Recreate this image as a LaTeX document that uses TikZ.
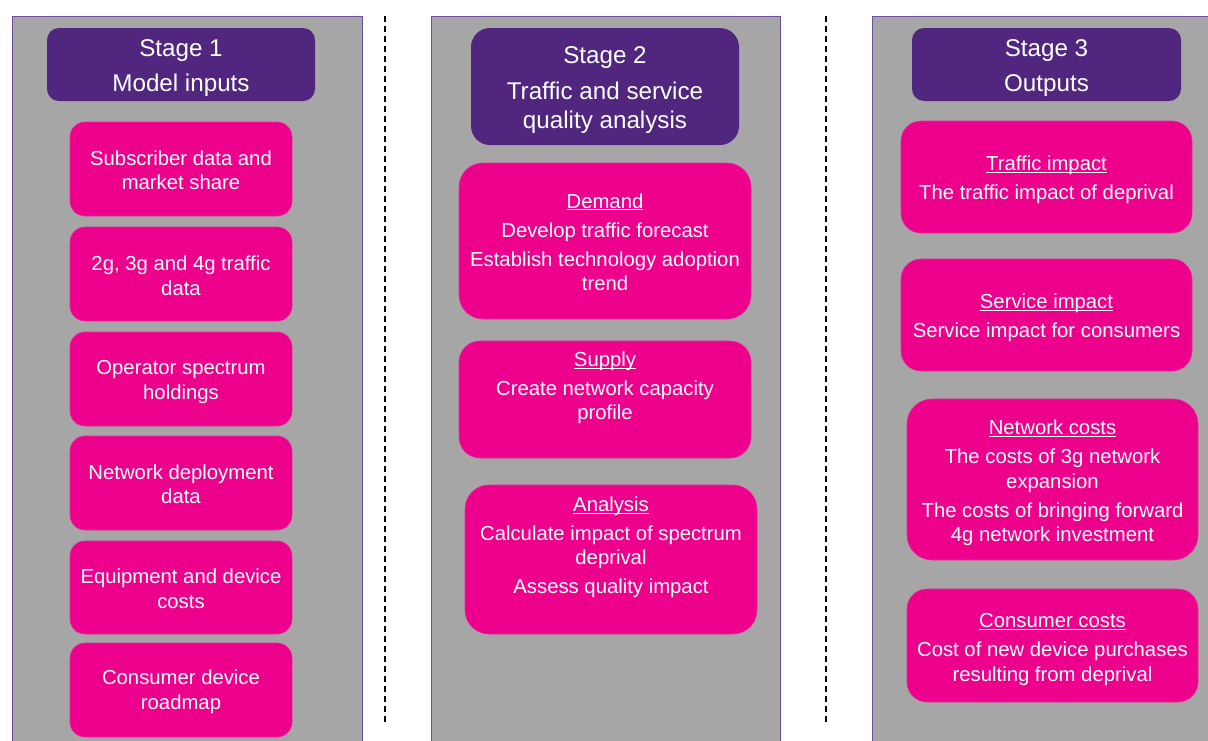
\documentclass[tikz,border=0pt]{standalone}
\usepackage{fontspec}
\setmainfont{Liberation Sans}
\definecolor{panelgray}{HTML}{A6A6A6}
\definecolor{stagepurple}{HTML}{51267F}
\definecolor{itempink}{HTML}{EC008C}
\definecolor{panelline}{HTML}{6F4E9E}
% underlined heading word: rule sits just under the baseline, line keeps the word's own size
\newcommand\headword[1]{\rlap{\underline{\smash{#1}\vphantom{A}}}\phantom{#1}}
% invisible strut that sets the height of a node's first line
\newcommand\lift[1]{\rule{0pt}{#1}}
\tikzset{
  panel/.style={draw=panelline, line width=1pt, fill=panelgray, rectangle, inner sep=0pt},
  stagebox/.style={rectangle, fill=stagepurple, text=white, align=center, inner sep=0pt,
    font=\fontsize{24.2}{29}\selectfont},
  itembox/.style={rectangle, fill=itempink, draw=itempink!85!white, line width=0.6pt,
    text=white, align=center, inner sep=0pt, font=\fontsize{20.3}{24.5}\selectfont},
  separator/.style={draw=black, line width=1.1pt, dash pattern=on 6pt off 4pt}
}
\begin{document}
\begin{tikzpicture}[x=1pt, y=-1pt]
\useasboundingbox (0,0) rectangle (1208,740);
\clip (0,0) rectangle (1208,740);
\fill[white] (0,0) rectangle (1208,740);

% column panels (they run off the lower edge)
\node[panel, minimum width=350pt, minimum height=750pt, anchor=north west] (p1) at (12,16) {};
\node[panel, minimum width=349pt, minimum height=750pt, anchor=north west] (p2) at (431,16) {};
\node[panel, minimum width=360pt, minimum height=750pt, anchor=north west] (p3) at (872,16) {};

% dashed separators between the columns
\coordinate (s1top) at (385,16);
\coordinate (s1bot) at (385,723);
\coordinate (s2top) at (826,16);
\coordinate (s2bot) at (826,723);
\draw[separator] (s1top) -- (s1bot);
\draw[separator] (s2top) -- (s2bot);

% Stage 1
\node[stagebox, minimum width=268pt, minimum height=73pt, rounded corners=12pt] (h1) at (181,64.5)
  {\lift{25pt}Stage 1\\[6pt]Model inputs};
\node[itembox, minimum width=222pt, minimum height=94pt, rounded corners=15pt] (in1) at (181,169)
  {\lift{17pt}Subscriber data and\\market share};
\node[itembox, minimum width=222pt, minimum height=94pt, rounded corners=15pt] (in2) at (181,274)
  {\lift{18.5pt}2g, 3g and 4g traffic\\data};
\node[itembox, minimum width=222pt, minimum height=94pt, rounded corners=15pt] (in3) at (181,379)
  {\lift{20.5pt}Operator spectrum\\holdings};
\node[itembox, minimum width=222pt, minimum height=94pt, rounded corners=15pt] (in4) at (181,483)
  {\lift{17pt}Network deployment\\data};
\node[itembox, minimum width=222pt, minimum height=93pt, rounded corners=15pt] (in5) at (181,587.5)
  {\lift{17pt}Equipment and device\\costs};
\node[itembox, minimum width=222pt, minimum height=94pt, rounded corners=15pt] (in6) at (181,690)
  {\lift{18.5pt}Consumer device\\roadmap};

% Stage 2
\node[stagebox, minimum width=268pt, minimum height=117pt, rounded corners=19pt] (h2) at (605,86.5)
  {\lift{25pt}Stage 2\\[7pt]Traffic and service\\quality analysis};
\node[itembox, minimum width=292pt, minimum height=156pt, rounded corners=24pt] (demand) at (605,241)
  {\lift{17pt}\headword{Demand}\\[4.5pt]Develop traffic forecast\\[4.5pt]Establish technology adoption\\trend};
\node[itembox, minimum width=292pt, minimum height=117pt, rounded corners=21pt] (supply) at (605,399.5)
  {\lift{19pt}\headword{Supply}\\[4.5pt]Create network capacity\\profile\\\strut};
\node[itembox, minimum width=292pt, minimum height=149pt, rounded corners=24pt] (analysis) at (611,559.5)
  {\lift{18pt}\headword{Analysis}\\[4.5pt]Calculate impact of spectrum\\deprival\\[4.5pt]Assess quality impact\\\strut};

% Stage 3
\node[stagebox, minimum width=269pt, minimum height=73pt, rounded corners=12pt] (h3) at (1046.5,64.5)
  {\lift{25pt}Stage 3\\[6pt]Outputs};
\node[itembox, minimum width=291pt, minimum height=112pt, rounded corners=20pt] (traffic) at (1046.5,177)
  {\lift{21pt}\headword{Traffic impact}\\[4.5pt]The traffic impact of deprival};
\node[itembox, minimum width=291pt, minimum height=112pt, rounded corners=20pt] (service) at (1046.5,315)
  {\lift{21pt}\headword{Service impact}\\[4.5pt]Service impact for consumers};
\node[itembox, minimum width=291pt, minimum height=161pt, rounded corners=25pt] (netcost) at (1052.5,479.5)
  {\lift{22pt}\headword{Network costs}\\[4.5pt]The costs of 3g network\\expansion\\[4.5pt]The costs of bringing forward\\4g network investment};
\node[itembox, minimum width=291pt, minimum height=113pt, rounded corners=20pt] (conscost) at (1052.5,645.5)
  {\lift{22pt}\headword{Consumer costs}\\[4.5pt]Cost of new device purchases\\resulting from deprival};
\end{tikzpicture}
\end{document}
